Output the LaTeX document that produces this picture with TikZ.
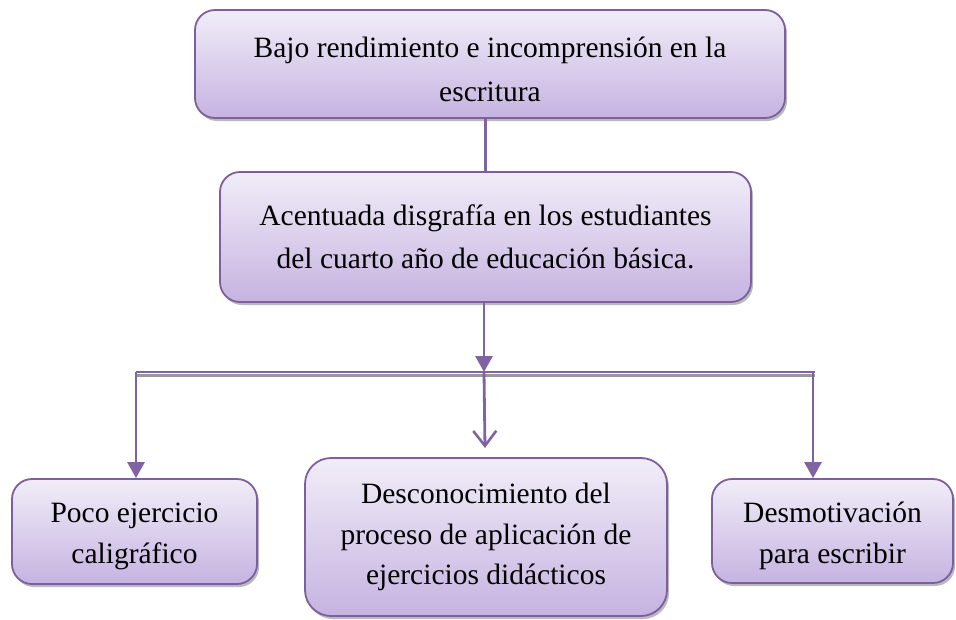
\documentclass[tikz,border=0pt]{standalone}
\usepackage{fontspec}
\setmainfont{Liberation Serif}
\usetikzlibrary{shadows,arrows.meta,calc}
\definecolor{bord}{HTML}{7C5F9F}
\definecolor{topc}{HTML}{F1EDF8}
\definecolor{botc}{HTML}{C6B3E1}
\definecolor{linec}{HTML}{8064A2}
\tikzset{
  box/.style={draw=bord, line width=1.8pt, rounded corners=20pt, top color=topc, bottom color=botc,
    drop shadow={shadow xshift=2pt, shadow yshift=-3pt, fill=black!45, opacity=0.6},
    align=center, font=\fontsize{29.5}{43}\selectfont, inner sep=0pt},
  txt/.style={align=center, inner sep=0pt, font=\fontsize{29.5}{41}\selectfont},
  conn/.style={draw=linec, line width=2.8pt},
  tri/.style={-{Triangle[length=16pt,width=17pt]}},
  barb/.style={-{Straight Barb[length=15pt,width=23pt,line width=2.6pt]}},
}
\begin{document}
\begin{tikzpicture}[x=1pt,y=-1pt]
\useasboundingbox (0,0) rectangle (956,619);
\node[box, minimum width=590pt, minimum height=108pt] (b1) at (490,64) {};
\node[txt, font=\fontsize{29.5}{44}\selectfont] (t1) at (490,69) {Bajo rendimiento e incomprensión en la\\escritura};
\node[box, minimum width=531pt, minimum height=130pt] (b2) at (485.5,237) {Acentuada disgrafía en los estudiantes\\del cuarto año de educación básica.};
\node[box, minimum width=245pt, minimum height=105pt] (b3) at (134.5,531.5) {};
\node[txt] (t3) at (134.5,536) {Poco ejercicio\\caligráfico};
\node[box, minimum width=362pt, minimum height=158pt, rounded corners=26pt, font=\fontsize{29.5}{40.5}\selectfont] (b4) at (486,537) {Desconocimiento del\\proceso de aplicación de\\ejercicios didácticos};
\node[box, minimum width=241pt, minimum height=104pt] (b5) at (832.5,531) {};
\node[txt] (t5) at (832.5,536) {Desmotivación\\para escribir};
\coordinate (bl) at (136,372);
\coordinate (br) at (815,372);
\coordinate (bm) at (484,372);
\coordinate (tip) at (485,448);
% bar shadow
\draw[black!40, line width=2.4pt] ($(bl)+(0,3.5)$) -- ($(br)+(0,3.5)$);
\draw[conn] (bl) -- (br);
\draw[conn] (b2.north |- b1.south) -- (b2.north);
\draw[conn, tri] (b2.south -| bm) -- (bm);
\draw[conn, barb] (bm) -- (tip);
\draw[conn, tri] (bl) -- (bl |- b3.north);
\draw[conn, tri] ($(br)+(-2,0)$) -- ($(br |- b5.north)+(-2,0)$);
\end{tikzpicture}
\end{document}
